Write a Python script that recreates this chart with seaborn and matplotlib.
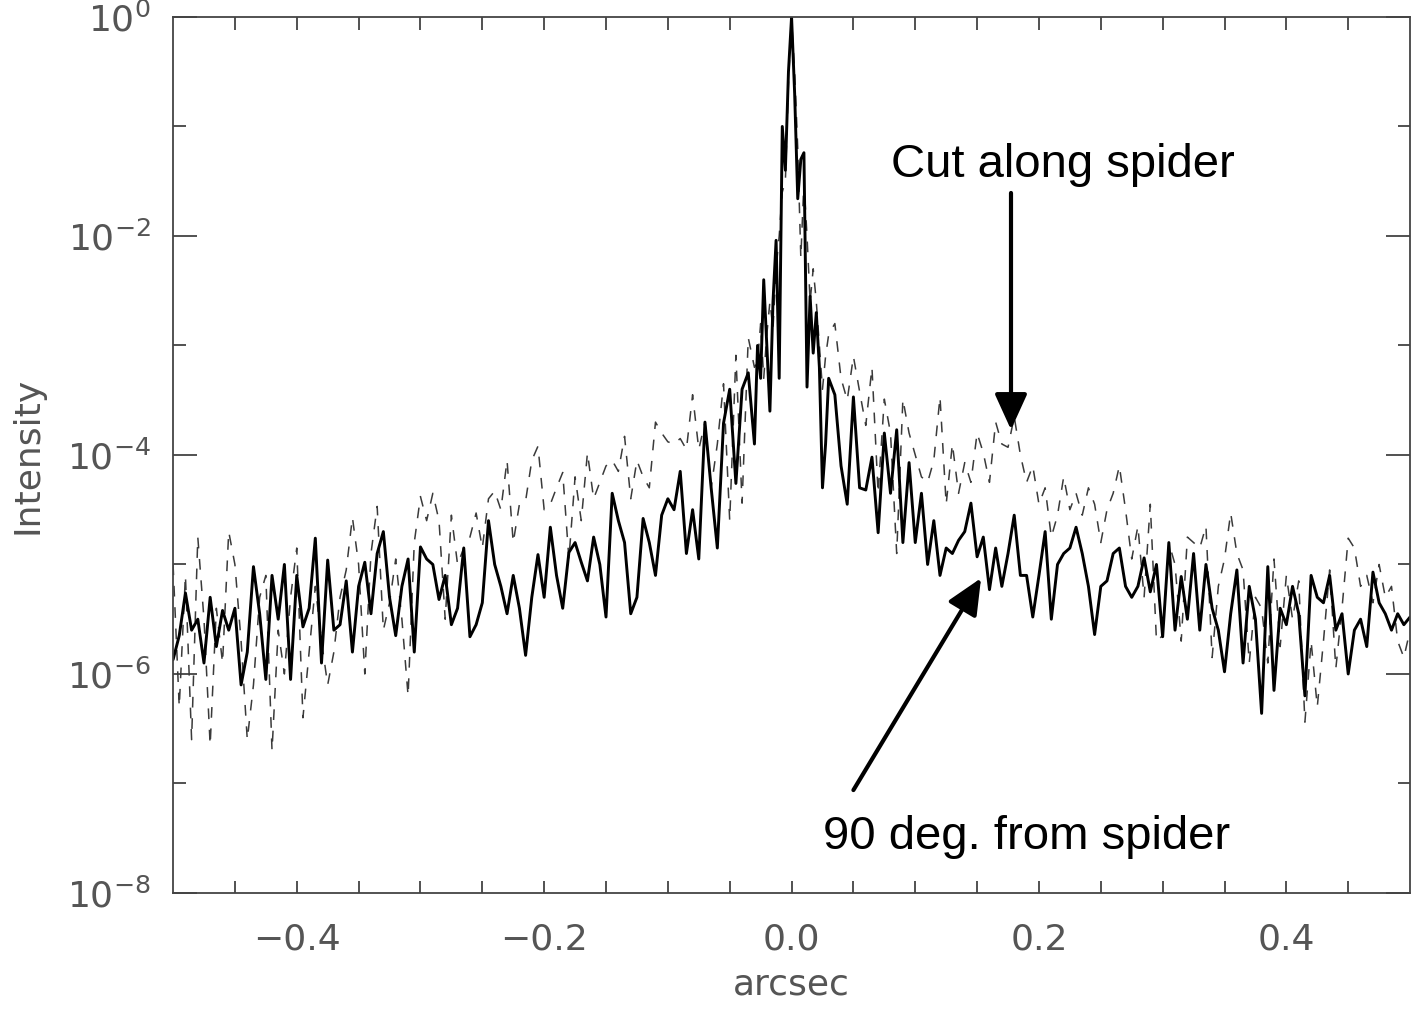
import numpy as np
import pandas as pd
import matplotlib
matplotlib.use('Agg')
import matplotlib.pyplot as plt
import seaborn as sns

# log10(intensity) read off the picture, sampled at 0.005" outside the core
# and 0.0025" across the core
x_left = np.linspace(-0.5, -0.03, 95)
x_core = np.linspace(-0.0275, 0.0275, 23)
x_right = np.linspace(0.03, 0.5, 95)

solid_left = [
    -5.87, -5.65, -5.26, -5.6, -5.5, -5.9, -5.3, -5.75, -5.42, -5.6,
    -5.4, -6.1, -5.8, -5.02, -5.45, -6.05, -5.1, -5.5, -5.0, -6.05,
    -5.1, -5.57, -5.4, -4.76, -5.9, -4.96, -5.6, -5.55, -5.15, -5.8,
    -5.2, -4.98, -5.45, -4.9, -4.7, -5.3, -5.65, -5.2, -4.95, -5.8,
    -4.84, -4.95, -5.0, -5.32, -5.1, -5.55, -5.4, -4.85, -5.66, -5.55,
    -5.35, -4.6, -5.0, -5.2, -5.45, -5.1, -5.4, -5.83, -5.3, -4.91,
    -5.3, -4.66, -5.1, -5.4, -4.89, -4.8, -4.98, -5.15, -4.75, -5.0,
    -5.48, -4.35, -4.6, -4.8, -5.45, -5.3, -4.58, -4.8, -5.1, -4.55,
    -4.4, -4.5, -4.15, -4.9, -4.5, -4.95, -3.7, -4.3, -4.85, -3.71,
    -3.4, -4.26, -3.4, -3.25, -3.9,
]
solid_core = [
    -3.0, -3.3, -2.4, -3.0, -3.6, -2.6, -2.04, -3.3, -1.0, -1.4,
    -0.5, 0.0, -0.7, -1.66, -1.3, -1.24, -3.38, -2.55, -3.07, -2.7,
    -3.2, -4.3, -3.9,
]
solid_right = [
    -3.3, -3.45, -4.1, -4.45, -3.47, -4.3, -4.32, -4.02, -4.71, -3.8,
    -4.35, -3.77, -4.8, -4.07, -4.8, -4.35, -5.0, -4.6, -5.1, -4.85,
    -4.9, -4.78, -4.7, -4.44, -4.93, -4.75, -5.23, -4.85, -5.2, -4.9,
    -4.55, -5.1, -5.1, -5.48, -5.1, -4.7, -5.5, -5.0, -4.9, -4.85,
    -4.66, -4.9, -5.2, -5.64, -5.2, -5.15, -4.9, -4.85, -5.2, -5.3,
    -5.2, -4.94, -5.25, -5.0, -5.66, -4.8, -5.6, -5.11, -5.5, -4.9,
    -5.6, -5.0, -5.4, -5.6, -5.98, -5.45, -5.05, -5.9, -5.2, -5.5,
    -6.36, -5.02, -6.15, -5.4, -5.55, -5.2, -5.45, -6.2, -5.1, -5.3,
    -5.35, -5.1, -5.6, -5.45, -6.0, -5.6, -5.5, -5.75, -5.07, -5.35,
    -5.45, -5.6, -5.45, -5.55, -5.48,
]

dashed_left = [
    -5.0, -6.3, -5.1, -6.6, -4.75, -5.5, -6.65, -5.4, -5.9, -4.7,
    -5.0, -5.7, -6.6, -6.1, -5.3, -5.1, -6.7, -5.6, -6.0, -5.3,
    -4.85, -6.4, -5.8, -5.2, -5.7, -6.1, -5.8, -5.3, -5.05, -4.57,
    -5.0, -6.0, -4.9, -4.47, -5.6, -5.35, -4.95, -5.5, -6.2, -4.8,
    -4.38, -4.6, -4.35, -4.6, -5.5, -4.55, -5.0, -4.85, -4.75, -4.53,
    -4.85, -4.4, -4.33, -4.5, -4.05, -4.8, -4.45, -4.42, -4.05, -3.92,
    -4.5, -4.45, -4.3, -4.16, -4.95, -4.2, -4.6, -3.98, -4.4, -4.25,
    -4.1, -4.05, -4.15, -3.83, -4.4, -4.05, -4.2, -4.3, -3.7, -3.8,
    -3.88, -3.9, -3.85, -3.95, -3.45, -3.95, -3.7, -4.3, -3.9, -3.35,
    -4.6, -3.09, -4.44, -2.93, -3.2,
]
dashed_core = [
    -3.15, -2.8, -3.3, -2.9, -2.6, -2.85, -2.3, -2.0, -1.6, -1.5,
    -0.6, -0.02, -0.5, -1.2, -2.2, -1.5, -2.0, -2.6, -2.3, -2.6,
    -3.0, -3.4, -3.1,
]
dashed_right = [
    -2.9, -2.8, -3.3, -3.5, -3.1, -3.42, -3.73, -3.2, -4.35, -3.49,
    -3.8, -4.9, -3.49, -3.8, -4.0, -4.2, -4.25, -4.05, -3.47, -4.45,
    -3.9, -4.35, -4.07, -4.25, -3.8, -3.98, -4.25, -3.7, -3.9, -3.93,
    -3.65, -4.0, -4.25, -4.1, -4.45, -4.3, -4.75, -4.55, -4.2, -4.5,
    -4.35, -4.55, -4.3, -4.45, -4.8, -4.5, -4.35, -4.1, -4.5, -4.95,
    -4.65, -5.3, -4.45, -5.7, -5.65, -4.8, -5.0, -5.7, -4.75, -4.8,
    -4.85, -4.65, -5.85, -5.2, -4.95, -4.53, -4.9, -5.05, -5.9, -5.3,
    -5.4, -5.9, -4.95, -5.75, -5.1, -5.5, -5.15, -6.44, -5.7, -6.3,
    -5.7, -5.05, -5.95, -5.4, -4.76, -4.85, -5.2, -5.1, -5.35, -5.0,
    -5.3, -5.2, -5.7, -5.85, -5.6,
]

ytick_vals = [1e-8, 1e-6, 1e-4, 1e-2, 1e0]
ytick_labels = [r'$10^{-8}$', r'$10^{-6}$', r'$10^{-4}$', r'$10^{-2}$', r'$10^{0}$']
xtick_vals = [-0.4, -0.2, 0.0, 0.2, 0.4]
xtick_labels = ['\u22120.4', '\u22120.2', '0.0', '0.2', '0.4']

x = np.concatenate([x_left, x_core, x_right])
df = pd.DataFrame({
    'arcsec': np.concatenate([x, x]),
    'intensity': 10 ** np.concatenate([solid_left, solid_core, solid_right,
                                       dashed_left, dashed_core, dashed_right]),
    'cut': ['90 deg. from spider'] * len(x) + ['Cut along spider'] * len(x),
})

sns.set_style('ticks')
plt.rcParams['font.family'] = ['DejaVu Sans']
plt.rcParams['mathtext.fontset'] = 'dejavusans'

fig = plt.figure(figsize=(14.22, 10.09), dpi=100)
ax = fig.add_axes([0.1217, 0.115, 0.8699, 0.8682])

sns.lineplot(data=df[df['cut'] == 'Cut along spider'], x='arcsec', y='intensity',
             ax=ax, color='#3a3a3a', lw=1.1, sort=False,
             estimator=None, linestyle=(0, (7, 7)))
sns.lineplot(data=df[df['cut'] == '90 deg. from spider'], x='arcsec', y='intensity',
             ax=ax, color='black', lw=2.1, sort=False, estimator=None,
             solid_joinstyle='round')

ax.set_yscale('log')
ax.set_xlim(-0.5, 0.5)
ax.set_ylim(1e-8, 1)

grey = '#555555'
ax.set_xticks(xtick_vals)
ax.set_xticklabels(xtick_labels)
ax.set_xticks(np.arange(-0.45, 0.5, 0.05), minor=True)
ax.set_yticks(ytick_vals)
ax.set_yticklabels(ytick_labels)
ax.set_yticks([1e-7, 1e-5, 1e-3, 1e-1], minor=True)
ax.yaxis.set_minor_formatter(matplotlib.ticker.NullFormatter())

ax.tick_params(axis='both', which='both', direction='in', top=True, right=True,
               colors='#333333', labelcolor=grey, labelsize=26, width=1.2)
ax.tick_params(axis='x', which='both', length=9, pad=21)
ax.tick_params(axis='y', which='major', length=17, pad=16)
ax.tick_params(axis='y', which='minor', length=9)
for s in ax.spines.values():
    s.set_color('#444444')
    s.set_linewidth(1.3)

ax.set_xlabel('arcsec', fontsize=26, color=grey, labelpad=8)
ax.set_ylabel('Intensity', fontsize=26, color=grey, labelpad=16)

ax.text(0.2194, 0.0445, 'Cut along spider', fontsize=34, family='Liberation Sans',
        color='black', ha='center', va='center')
ax.text(0.1903, 3.25e-8, '90 deg. from spider', fontsize=34, family='Liberation Sans',
        color='black', ha='center', va='center')
arrow = dict(arrowstyle='-|>,head_length=1.1,head_width=0.5', lw=3, color='black',
             shrinkA=0, shrinkB=0, mutation_scale=20)
ax.annotate('', xy=(0.1774, 1.7e-4), xytext=(0.1774, 0.0247), arrowprops=arrow)
ax.annotate('', xy=(0.1532, 7.5e-6), xytext=(0.05, 8.7e-8), arrowprops=arrow)

fig.savefig('out.png', dpi=100)
